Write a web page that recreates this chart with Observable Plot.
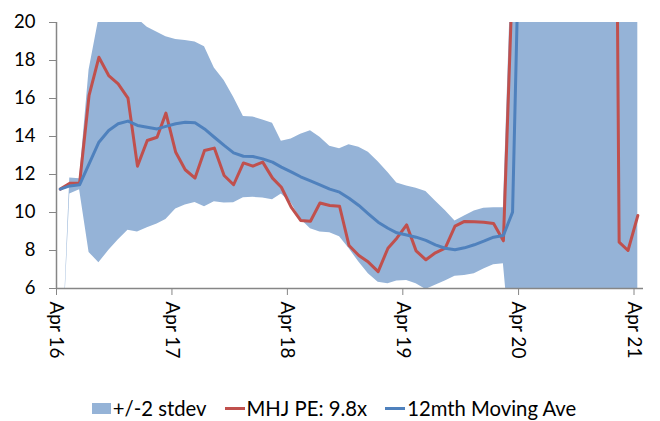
<!DOCTYPE html>
<html>
<head>
<meta charset="utf-8">
<script src="https://cdn.jsdelivr.net/npm/d3@7"></script>
<script src="https://cdn.jsdelivr.net/npm/@observablehq/plot@0.6"></script>
<style>
  html, body { margin: 0; padding: 0; background: #fff; }
  body { width: 660px; height: 421px; overflow: hidden; font-family: Lato, sans-serif; }
  #legend { display: flex; justify-content: center; align-items: center; height: 36px; font-size: 20.3px; color: #000; padding-left: 8px; }
  .item { display: flex; align-items: center; margin: 0 9px; }
  .sw-box { width: 19px; height: 11px; background: #95b3d7; margin-right: 2px; }
  .sw-line { width: 20px; height: 3px; margin-right: 2px; }
</style>
</head>
<body>
<div id="chart"></div>
<div id="legend"></div>
<script>
// Monthly observations from Apr 2016 to Apr 2021
const startMonth = new Date(Date.UTC(2016, 3, 13));
const nPoints = 61;

// MHJ PE (red)
const peValues = [
  11.23, 11.54, 11.54, 16.16, 18.17, 17.21, 16.77, 16.02, 12.44, 13.79,
  13.96, 15.23, 13.17, 12.25, 11.81, 13.26, 13.39, 11.95, 11.46, 12.61,
  12.44, 12.65, 11.81, 11.33, 10.28, 9.58, 9.54, 10.50, 10.37, 10.33,
  8.26, 7.74, 7.39, 6.89, 8.12, 8.65, 9.35, 7.98, 7.51, 7.88,
  8.12, 9.28, 9.53, 9.51, 9.49, 9.42, 8.51, 22.5, 270, 300,
  260, 220, 190, 160, 130, 110, 95, 78, 8.44, 8.0,
  9.84
];

// 12mth Moving Ave (blue)
const maValues = [
  11.23, 11.40, 11.46, 12.56, 13.70, 14.32, 14.67, 14.81, 14.58, 14.49,
  14.40, 14.53, 14.67, 14.75, 14.72, 14.40, 13.96, 13.53, 13.14, 12.96,
  12.95, 12.82, 12.65, 12.39, 12.14, 11.88, 11.67, 11.46, 11.23, 11.07,
  10.75, 10.37, 9.93, 9.49, 9.17, 8.93, 8.82, 8.70, 8.53, 8.30,
  8.12, 8.04, 8.14, 8.30, 8.49, 8.70, 8.79, 10.02, 32, 55,
  75, 92, 107, 120, 130, 139, 146, 151, 151, 150,
  149
];

// +/-2 stdev band
const upperValues = [
  0, 11.81, 11.77, 17.5, 20.2, 21, 21, 20.8, 20.2, 19.75,
  19.49, 19.25, 19.1, 19.05, 18.97, 18.72, 17.6, 16.95, 16.07, 15.05,
  15.03, 14.87, 14.7, 13.75, 13.87, 14.12, 14.3, 13.96, 13.49, 13.35,
  13.56, 13.44, 13.17, 12.67, 12.1, 11.55, 11.4, 11.28, 11.1, 10.6,
  10.1, 9.55, 9.82, 10.08, 10.23, 10.25, 10.25, 24.6, 80, 120,
  150, 170, 185, 195, 200, 205, 208, 210, 210, 208,
  205
];
const lowerValues = [
  0, 10.98, 11.2, 7.9, 7.35, 8.0, 8.55, 9.07, 8.98, 9.2,
  9.4, 9.63, 10.19, 10.4, 10.52, 10.3, 10.56, 10.5, 10.51, 10.78,
  10.8, 10.76, 10.67, 10.98, 10.5, 9.65, 9.15, 8.97, 8.93, 8.72,
  8.1, 7.39, 6.78, 6.33, 6.25, 6.4, 6.42, 6.25, 5.95, 6.17,
  6.4, 6.64, 6.68, 6.77, 7.02, 7.25, 7.3, 2.0, -20, -60,
  -90, -110, -120, -130, -135, -140, -140, -140, -140, -140,
  -140
];

const xTickYears = [2016, 2017, 2018, 2019, 2020, 2021];
const yTicks = [6, 8, 10, 12, 14, 16, 18, 20];

const legendItems = [
  {label: "+/-2 stdev", kind: "box", color: "#95b3d7"},
  {label: "MHJ PE: 9.8x", kind: "line", color: "#c0504d"},
  {label: "12mth Moving Ave", kind: "line", color: "#4f81bd"}
];

const dates = d3.range(nPoints).map(i => d3.utcMonth.offset(startMonth, i));
const data = dates.map((d, i) => ({
  date: d, pe: peValues[i], ma: maValues[i], upper: upperValues[i], lower: lowerValues[i]
}));
const xTicks = xTickYears.map(y => new Date(Date.UTC(y, 3, 1)));
const xDomain = [new Date(Date.UTC(2016, 3, 1)), new Date(Date.UTC(2021, 4, 1))];

const chart = Plot.plot({
  width: 660,
  height: 390,
  marginTop: 22,
  marginBottom: 102,
  marginLeft: 56,
  marginRight: 17,
  style: {fontFamily: "Lato, sans-serif", fontSize: "18.5px", color: "#000", background: "#fff"},
  x: {type: "utc", domain: xDomain},
  y: {domain: [6, 20]},
  marks: [
    Plot.areaY(data, {x: "date", y1: "lower", y2: "upper", fill: "#95b3d7", clip: true}),
    Plot.line(data, {x: "date", y: "pe", stroke: "#c0504d", strokeWidth: 3, clip: true}),
    Plot.line(data, {x: "date", y: "ma", stroke: "#4f81bd", strokeWidth: 3, clip: true}),
    Plot.ruleY([6], {stroke: "#868686", strokeWidth: 1.5}),
    Plot.ruleX([xDomain[0]], {stroke: "#868686", strokeWidth: 1.5}),
    Plot.axisY({ticks: yTicks, tickSize: 7, tickPadding: 14, stroke: "#868686", fill: "#000"}),
    Plot.axisX({ticks: xTicks, tickFormat: d3.utcFormat("%b %y"), tickRotate: 90, tickSize: 7, tickPadding: 6, stroke: "#868686", fill: "#000", fontSize: 19})
  ]
});
document.getElementById("chart").appendChild(chart);

const legend = d3.select("#legend");
legendItems.forEach(it => {
  const item = legend.append("div").attr("class", "item");
  item.append("div").attr("class", it.kind === "box" ? "sw-box" : "sw-line").style("background", it.color);
  item.append("span").text(it.label);
});
</script>
</body>
</html>
